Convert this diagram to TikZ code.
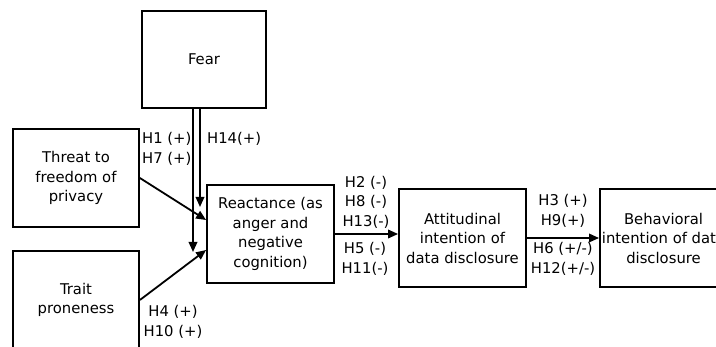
\documentclass[tikz,border=0pt]{standalone}
\usepackage{fontspec}
\setmainfont{DejaVu Sans}
\usetikzlibrary{positioning,arrows.meta}

\begin{document}
\begin{tikzpicture}[x=1pt, y=-1pt,
    every node/.style={font=\fontsize{14.8}{19.5}\selectfont},
    block/.style={draw, line width=1.8pt, minimum width=127pt, minimum height=98pt, align=center, inner sep=2pt},
    hyp/.style={align=center, inner sep=0pt},
    link/.style={line width=1.8pt, -{Triangle[length=10pt,width=8.5pt]}}]
    \useasboundingbox (0,0) rectangle (716,347);
    \clip (0,0) rectangle (716,347);

    % constructs
    \node[block, minimum width=124pt, minimum height=97pt] (fear) at (204,59.5) {Fear};
    \node[block, minimum width=126pt] (threat) at (76,178) {Threat to\\freedom of\\privacy};
    \node[block, minimum width=126pt] (trait) at (76,300) {Trait\\proneness};
    \node[block] (reactance) at (270.5,234) {Reactance (as\\anger and\\negative\\cognition)};
    \node[block] (attitude) at (462.5,238) {Attitudinal\\intention of\\data disclosure};
    \node[block] (behavior) at (663.5,238) {Behavioral\\intention of data\\disclosure};

    % fear paths
    \coordinate (fearA) at (200,207);
    \coordinate (fearB) at (193,252);
    \draw[link] (fearA |- fear.south) -- (fearA);
    \draw[link] (fearB |- fear.south) -- (fearB);

    % other paths
    \draw[link] (threat.east) -- ([yshift=14pt]reactance.west);
    \draw[link] (trait.east) -- ([yshift=-16pt]reactance.west);
    \draw[link] (reactance.east) -- (reactance.east -| attitude.west);
    \draw[link] (attitude.east) -- (behavior.west);

    % hypotheses
    \node[hyp, anchor=west, align=left] (h1) at (142,149) {H1 (+)\\H7 (+)};
    \node[hyp, anchor=west] (h14) at (207,139) {H14(+)};
    \node[hyp] (h2) at (366,202) {H2 (-)\\H8 (-)\\H13(-)};
    \node[hyp] (h5) at (365,259) {H5 (-)\\H11(-)};
    \node[hyp] (h4) at (173,322) {H4 (+)\\H10 (+)};
    \node[hyp] (h3) at (563,211) {H3 (+)\\H9(+)};
    \node[hyp] (h6) at (563,259) {H6 (+/-)\\H12(+/-)};
\end{tikzpicture}
\end{document}
